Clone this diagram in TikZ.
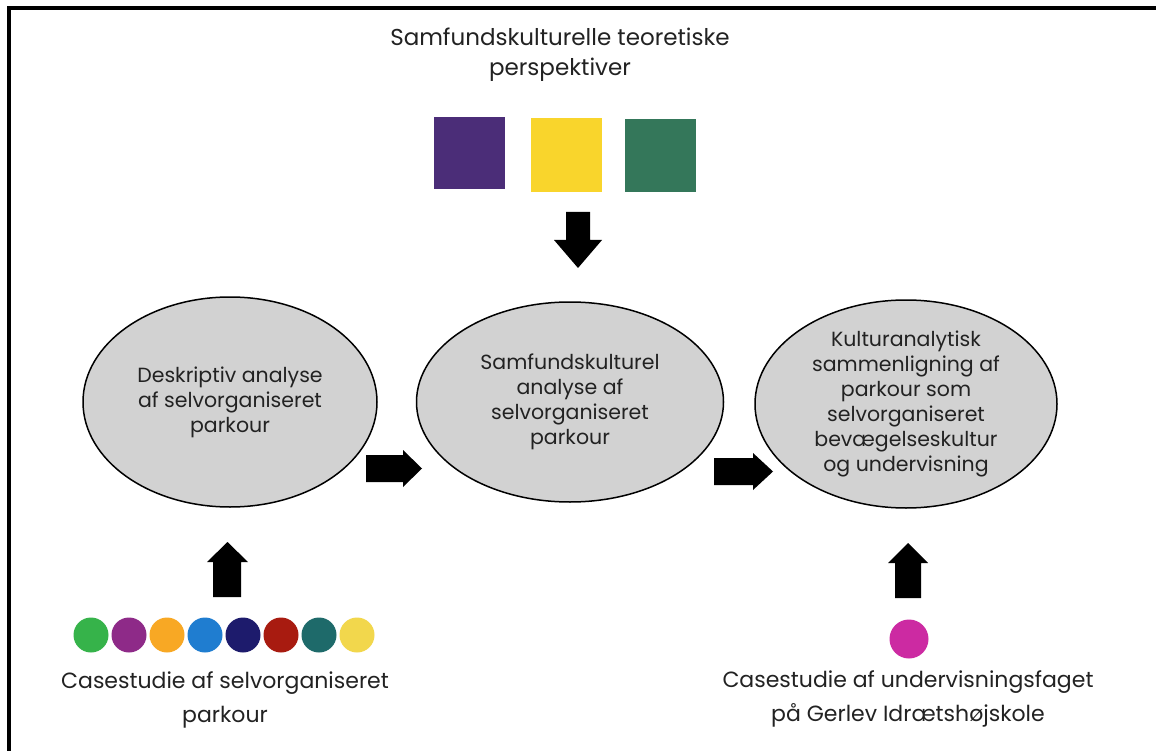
\documentclass[tikz,border=0pt]{standalone}
\usepackage{fontspec}
\setmainfont{Poppins}[Ligatures={NoCommon}]
\usetikzlibrary{shapes.geometric}
\definecolor{ellfill}{HTML}{D2D2D2}
\definecolor{txtdark}{HTML}{222222}
\definecolor{sqpurple}{HTML}{4B2D78}
\definecolor{sqyellow}{HTML}{F9D52C}
\definecolor{sqgreen}{HTML}{34775A}
\definecolor{cgreen}{HTML}{36B34A}
\definecolor{cpurple}{HTML}{8E2A88}
\definecolor{corange}{HTML}{F8A824}
\definecolor{cblue}{HTML}{1F7DD0}
\definecolor{cnavy}{HTML}{1D1B6C}
\definecolor{cred}{HTML}{A81B10}
\definecolor{cteal}{HTML}{1E6A6A}
\definecolor{cyellow}{HTML}{F2D74C}
\definecolor{cmagenta}{HTML}{CC2AA2}
\tikzset{
  stage/.style={ellipse, draw=black, line width=1.5pt, fill=ellfill, text=txtdark,
    inner sep=0pt, align=center, font=\fontsize{20.5}{25}\selectfont},
  label/.style={text=txtdark, align=center, font=\fontsize{22}{34}\selectfont},
  sq/.style={minimum width=71pt, minimum height=72pt, inner sep=0pt},
  dot/.style={circle, minimum size=35pt, inner sep=0pt},
  blk/.style={fill=black, draw=none}
}
\begin{document}
\begin{tikzpicture}[x=1pt,y=-1pt]
\useasboundingbox (0,0) rectangle (1156,751);
\fill[white] (0,0) rectangle (1156,751);
% frame (top and left edges only)
\draw[line width=4pt] (8.5,751) -- (8.5,8.5) -- (1156,8.5);

% top label and squares
\node[label, font=\fontsize{23}{30}\selectfont] (theory) at (560,55) {Samfundskulturelle teoretiske\\perspektiver};
\node[sq, fill=sqpurple] (s1) at (469,153) {};
\node[sq, fill=sqyellow, minimum height=74pt] (s2) at (566,155) {};
\node[sq, fill=sqgreen, minimum height=73pt] (s3) at (660,155.5) {};

% ellipses
\node[stage, minimum width=294pt, minimum height=210pt] (e1) at (230,402)
  {Deskriptiv analyse\\af selvorganiseret\\parkour};
\node[stage, minimum width=307pt, minimum height=200pt] (e2) at (570,402)
  {Samfundskulturel\\analyse af\\selvorganiseret\\parkour};
\node[stage, minimum width=302pt, minimum height=208pt] (e3) at (906,404)
  {Kulturanalytisk\\sammenligning af\\parkour som\\selvorganiseret\\bevægelseskultur\\og undervisning};

% block arrows
% down arrow (theory -> e2)
\fill[blk] (566,212) -- (590,212) -- (590,240) -- (602,240) -- (578,268) -- (554,240) -- (566,240) -- cycle;
% right arrow e1 -> e2
\fill[blk] (366,455) -- (403,455) -- (403,450) -- (422,468.5) -- (403,487) -- (403,482) -- (366,482) -- cycle;
% right arrow e2 -> e3
\fill[blk] (714,458) -- (753,458) -- (753,453) -- (773,471.5) -- (753,490) -- (753,485) -- (714,485) -- cycle;
% up arrow (case 1 -> e1)
\fill[blk] (213,597) -- (213,562) -- (207,562) -- (227.5,542) -- (248,562) -- (241,562) -- (241,597) -- cycle;
% up arrow (case 2 -> e3)
\fill[blk] (895,598) -- (895,563) -- (888,563) -- (908,543) -- (928,563) -- (921,563) -- (921,598) -- cycle;

% dots left
\node[dot, fill=cgreen] (d1) at (91,635) {};
\node[dot, fill=cpurple] (d2) at (129,635) {};
\node[dot, fill=corange] (d3) at (167,635) {};
\node[dot, fill=cblue] (d4) at (205,635) {};
\node[dot, fill=cnavy] (d5) at (243,635) {};
\node[dot, fill=cred] (d6) at (281,635) {};
\node[dot, fill=cteal] (d7) at (319,635) {};
\node[dot, fill=cyellow] (d8) at (357,635) {};
\node[label] (case1) at (225,700) {Casestudie af selvorganiseret\\parkour};

% right dot and label
\node[dot, fill=cmagenta, minimum size=39pt] (d9) at (909,639) {};
\node[label] (case2) at (908,699) {Casestudie af undervisningsfaget\\på Gerlev Idrætshøjskole};
\end{tikzpicture}
\end{document}
